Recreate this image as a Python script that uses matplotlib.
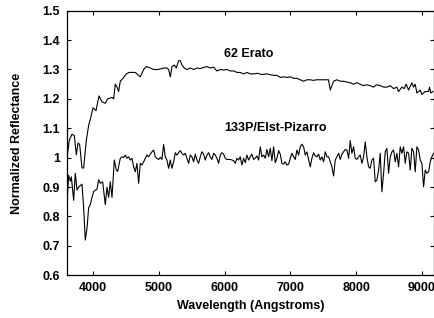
import matplotlib
matplotlib.use('Agg')
import matplotlib.pyplot as plt
from matplotlib.ticker import FuncFormatter

plt.rcParams['font.family'] = ['Liberation Sans', 'DejaVu Sans']
plt.rcParams['font.weight'] = 'bold'
plt.rcParams['font.size'] = 9

# 62 Erato spectrum (wavelength in Angstroms, normalized reflectance)
erato_wave = [3605, 3640, 3681, 3716, 3747, 3772, 3797, 3833, 3858, 3899, 3934, 3970,
              4000, 4046, 4091, 4137, 4187, 4223, 4289, 4314, 4339, 4365, 4390, 4415,
              4456, 4507, 4550, 4593, 4643, 4694, 4719, 4770, 4811, 4871, 4922, 4998,
              5074, 5125, 5150, 5175, 5201, 5236, 5266, 5302, 5327, 5353, 5388, 5429,
              5479, 5530, 5580, 5631, 5680, 5733, 5780, 5834, 5884, 5935, 5990, 6036,
              6090, 6138, 6190, 6239, 6290, 6340, 6390, 6442, 6500, 6560, 6644, 6700,
              6760, 6796, 6850, 6898, 6950, 6999, 7050, 7100, 7151, 7202, 7250, 7303,
              7350, 7400, 7455, 7530, 7580, 7607, 7657, 7708, 7760, 7809, 7860, 7911,
              7961, 8012, 8060, 8113, 8160, 8215, 8265, 8310, 8367, 8420, 8468, 8520,
              8569, 8620, 8645, 8696, 8731, 8761, 8797, 8848, 8873, 8898, 8924, 8974,
              9000, 9050, 9101, 9116, 9136, 9167]
erato_refl = [1.00, 1.06, 1.08, 1.075, 1.01, 1.05, 1.045, 0.965, 0.965, 1.06, 1.11, 1.14,
              1.17, 1.16, 1.21, 1.19, 1.185, 1.20, 1.205, 1.20, 1.25, 1.24, 1.225, 1.26,
              1.27, 1.285, 1.29, 1.29, 1.29, 1.28, 1.275, 1.30, 1.31, 1.305, 1.30, 1.30,
              1.305, 1.305, 1.30, 1.275, 1.31, 1.315, 1.305, 1.33, 1.33, 1.315, 1.305, 1.30,
              1.305, 1.30, 1.305, 1.303, 1.307, 1.31, 1.305, 1.308, 1.295, 1.30, 1.298, 1.30,
              1.295, 1.295, 1.29, 1.29, 1.285, 1.29, 1.285, 1.285, 1.287, 1.283, 1.285, 1.282,
              1.28, 1.28, 1.273, 1.275, 1.273, 1.275, 1.27, 1.27, 1.265, 1.26, 1.265, 1.265,
              1.263, 1.265, 1.265, 1.265, 1.265, 1.23, 1.26, 1.265, 1.26, 1.26, 1.257, 1.255,
              1.25, 1.255, 1.25, 1.245, 1.248, 1.245, 1.24, 1.248, 1.245, 1.24, 1.24, 1.245,
              1.235, 1.24, 1.225, 1.24, 1.235, 1.25, 1.23, 1.255, 1.24, 1.25, 1.22, 1.23,
              1.215, 1.225, 1.225, 1.24, 1.22, 1.225]

# 133P/Elst-Pizarro spectrum
elst_wave = [3605, 3630, 3656, 3671, 3706, 3731, 3757, 3782, 3807, 3833, 3858, 3883,
             3909, 3934, 3959, 3985, 4010, 4061, 4086, 4111, 4147, 4187, 4213, 4238,
             4263, 4289, 4324, 4355, 4375,
             4415, 4440, 4466, 4491, 4516, 4542, 4567, 4592, 4618, 4643, 4668, 4694,
             4719, 4744, 4770, 4795, 4820, 4846, 4871, 4896, 4922, 4947, 4972, 4998,
             5023, 5048, 5074, 5099, 5124, 5150, 5175, 5200, 5226, 5251, 5276, 5302,
             5327, 5352, 5378, 5403, 5428, 5454, 5479, 5504, 5530, 5555, 5580, 5606,
             5631, 5656, 5682, 5707, 5732, 5758, 5783, 5808, 5834, 5859, 5884, 5910,
             5935, 5960, 5986, 6011, 6036, 6062, 6087, 6112, 6138, 6163, 6188, 6214,
             6239, 6264, 6290, 6315, 6340, 6366, 6391, 6416, 6442, 6467, 6492, 6518,
             6543, 6568, 6594, 6619, 6644, 6670, 6695, 6720, 6746, 6771, 6796, 6822,
             6847, 6872, 6898, 6923, 6948, 6974, 6999, 7024, 7050, 7075, 7100, 7126,
             7151, 7176, 7202, 7227, 7252, 7278, 7303, 7328, 7354, 7379, 7404, 7430,
             7455, 7480, 7506, 7531, 7556, 7582, 7607, 7632, 7658, 7683, 7708, 7734,
             7759, 7784, 7810, 7835, 7860, 7886, 7911, 7936, 7962, 7987, 8012, 8038,
             8063, 8088, 8114, 8139, 8164, 8190, 8215, 8240, 8266, 8291, 8316, 8342,
             8367, 8392, 8418, 8443, 8468, 8494, 8519, 8544, 8570, 8595, 8620, 8646,
             8671, 8696, 8722, 8747, 8772, 8798, 8823, 8848, 8874, 8899, 8924, 8950,
             8975, 9000, 9026, 9051, 9076, 9102, 9127, 9152, 9178]
elst_refl = [0.845, 0.94, 0.92, 0.935, 0.855, 0.947, 0.89, 0.90, 0.905, 0.91, 0.83, 0.72,
             0.76, 0.83, 0.84, 0.865, 0.885, 0.893, 0.925, 0.913, 0.918, 0.84, 0.90, 0.865,
             0.918, 0.865, 0.992, 0.958, 0.953,
             0.998, 1.003, 1.001, 1.009, 0.998, 1.003, 0.992, 0.998, 0.969, 0.952, 0.981, 0.913,
             0.981, 0.975, 0.986, 0.998, 1.009, 1.003, 1.012, 1.020, 1.026, 1.003, 0.998, 0.994,
             1.001, 0.994, 1.045, 1.003, 0.992, 0.964, 0.992, 0.964, 0.986, 1.017, 1.009, 1.017,
             1.024, 1.015, 1.009, 1.015, 0.998, 0.981, 1.009, 1.003, 0.986, 1.012, 0.992, 0.981,
             1.003, 1.020, 1.012, 0.992, 1.009, 1.017, 1.003, 0.994, 1.015, 1.009, 0.998, 0.981,
             1.009, 1.017, 1.012, 0.998, 0.994, 0.994, 0.994, 0.992, 0.990, 0.981, 0.998, 0.992,
             1.003, 0.975, 0.998, 0.983, 1.009, 0.992, 1.003, 1.012, 0.994, 0.998, 1.006, 0.992,
             1.037, 1.003, 1.009, 0.998, 1.028, 1.003, 1.032, 0.990, 1.037, 0.983, 0.998, 1.024,
             1.012, 0.981, 0.978, 0.986, 0.975, 0.978, 0.998, 1.015, 1.003, 0.994, 1.026, 1.009,
             1.037, 1.046, 1.037, 1.009, 1.020, 0.994, 0.969, 0.998, 1.017, 1.006, 1.003, 1.012,
             0.992, 1.003, 0.986, 1.020, 1.003, 1.003, 0.986, 0.969, 0.938, 0.992, 1.003, 1.015,
             0.994, 1.012, 1.020, 1.028, 1.026, 0.998, 1.058, 1.015, 1.037, 0.998, 0.994, 1.003,
             1.009, 0.981, 1.003, 1.054, 1.003, 0.969, 0.964, 0.992, 0.998, 0.918, 0.924, 0.958,
             1.015, 0.884, 0.947, 1.020, 1.032, 0.947, 1.003, 1.020, 1.026, 0.986, 1.015, 0.969,
             1.037, 1.015, 1.037, 0.981, 1.020, 1.015, 0.958, 1.032, 1.020, 0.952, 1.037, 1.026,
             0.992, 0.981, 0.901, 0.958, 0.947, 0.952, 0.986, 1.003, 1.015]

xticks = [4000, 5000, 6000, 7000, 8000, 9000]
yticks = [0.6, 0.7, 0.8, 0.9, 1.0, 1.1, 1.2, 1.3, 1.4, 1.5]

fig = plt.figure(figsize=(4.34, 3.18), dpi=100)
ax = fig.add_axes([0.1544, 0.1343, 0.8445, 0.8321])

ax.plot(erato_wave, erato_refl, color='black', linewidth=0.8)
ax.plot(elst_wave, elst_refl, color='black', linewidth=0.8)

ax.text(6360, 1.353, '62 Erato', ha='center', va='center', fontweight='bold', fontsize=9)
ax.text(6770, 1.100, '133P/Elst-Pizarro', ha='center', va='center', fontweight='bold', fontsize=9)

ax.set_xlim(3605, 9177)
ax.set_ylim(0.6, 1.5)
ax.set_xticks(xticks)
ax.set_yticks(yticks)
ax.yaxis.set_major_formatter(FuncFormatter(lambda v, p: '%g' % round(v, 2)))

ax.tick_params(direction='in', length=3, width=0.8, top=True, right=True,
               labelsize=9, pad=5)
for s in ax.spines.values():
    s.set_linewidth(0.9)

ax.set_xlabel('Wavelength (Angstroms)', fontweight='bold', fontsize=9, labelpad=4)
ax.set_ylabel('Normalized Reflectance', fontweight='bold', fontsize=9, labelpad=14)

fig.savefig('out.png', dpi=100, facecolor='white')
